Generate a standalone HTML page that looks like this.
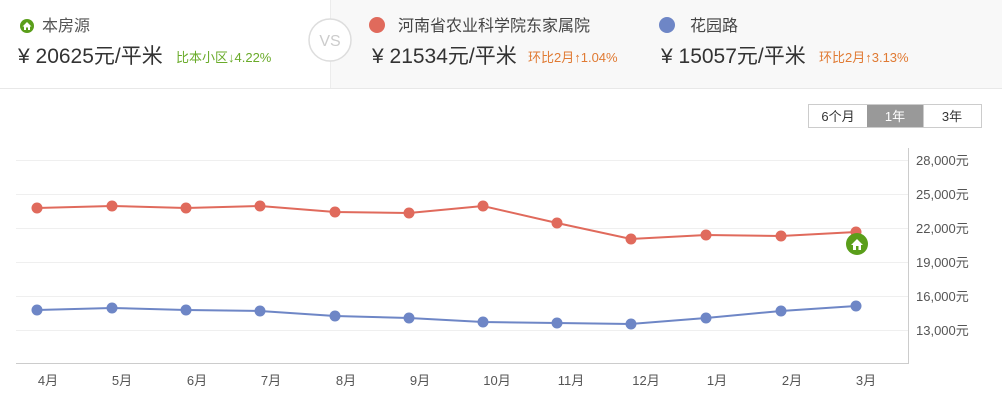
<!DOCTYPE html>
<html><head><meta charset="utf-8"><style>
body{margin:0;width:1002px;height:405px;overflow:hidden;background:#fff;font-family:"Liberation Sans","Noto Sans CJK SC",sans-serif;}
</style></head><body>
<svg width="1002" height="405" xmlns="http://www.w3.org/2000/svg" font-family="Liberation Sans, Noto Sans CJK SC, sans-serif">
<rect x="0" y="0" width="1002" height="88" fill="#fff"/>
<rect x="330" y="0" width="672" height="88" fill="#f8f8f8"/>
<line x1="0" y1="88.5" x2="1002" y2="88.5" stroke="#e8e8e8"/>
<line x1="330.5" y1="0" x2="330.5" y2="88" stroke="#ececec"/>
<circle cx="27" cy="26" r="7" fill="#5a9e1a"/>
<path d="M22.5 26.5 L27 22 L31.5 26.5 L30 26.5 L30 30 L24 30 L24 26.5Z" fill="#fff"/>
<rect x="26" y="27.5" width="2" height="2.5" fill="#5a9e1a"/>
<text x="42" y="31" font-size="16" fill="#555">本房源</text>
<text x="18" y="63" font-size="21" fill="#333">¥ 20625元/平米</text>
<text x="176" y="62" font-size="13" fill="#6aab2a">比本小区↓4.22%</text>
<circle cx="330" cy="40" r="21" fill="#fff" stroke="#ddd" stroke-width="1.5"/>
<text x="330" y="46" font-size="16" fill="#ccc" text-anchor="middle">VS</text>
<circle cx="377" cy="25" r="8" fill="#e06a5c"/>
<text x="398" y="31" font-size="16" fill="#444">河南省农业科学院东家属院</text>
<text x="372" y="63" font-size="21" fill="#333">¥ 21534元/平米</text>
<text x="528" y="62" font-size="13" fill="#e07a33">环比2月↑1.04%</text>
<circle cx="667" cy="25" r="8" fill="#6e86c6"/>
<text x="690" y="31" font-size="16" fill="#444">花园路</text>
<text x="661" y="63" font-size="21" fill="#333">¥ 15057元/平米</text>
<text x="819" y="62" font-size="13" fill="#e07a33">环比2月↑3.13%</text>
<rect x="808.5" y="104.5" width="173" height="23" fill="#fff" stroke="#ccc"/>
<rect x="867" y="105" width="56" height="22" fill="#999"/>
<line x1="923.5" y1="105" x2="923.5" y2="127" stroke="#ccc"/>
<text x="838" y="121" font-size="13" fill="#333" text-anchor="middle">6个月</text>
<text x="895" y="121" font-size="13" fill="#fff" text-anchor="middle">1年</text>
<text x="952" y="121" font-size="13" fill="#333" text-anchor="middle">3年</text>
<g stroke="#efefef" stroke-width="1">
<line x1="16" y1="160.5" x2="908" y2="160.5"/><line x1="16" y1="194.5" x2="908" y2="194.5"/>
<line x1="16" y1="228.5" x2="908" y2="228.5"/><line x1="16" y1="262.5" x2="908" y2="262.5"/>
<line x1="16" y1="296.5" x2="908" y2="296.5"/><line x1="16" y1="330.5" x2="908" y2="330.5"/>
</g>
<line x1="908.5" y1="148" x2="908.5" y2="363" stroke="#ccc"/>
<line x1="16" y1="363.5" x2="909" y2="363.5" stroke="#ccc"/>
<g font-size="13" fill="#555">
<text x="916" y="165">28,000元</text><text x="916" y="199">25,000元</text><text x="916" y="233">22,000元</text>
<text x="916" y="267">19,000元</text><text x="916" y="301">16,000元</text><text x="916" y="335">13,000元</text>
</g>
<g font-size="13" fill="#555" text-anchor="middle">
<text x="48" y="385">4月</text><text x="122" y="385">5月</text><text x="197" y="385">6月</text><text x="271" y="385">7月</text>
<text x="346" y="385">8月</text><text x="420" y="385">9月</text><text x="497" y="385">10月</text><text x="571" y="385">11月</text>
<text x="646" y="385">12月</text><text x="717" y="385">1月</text><text x="792" y="385">2月</text><text x="866" y="385">3月</text>
</g>
<polyline fill="none" stroke="#e06a5c" stroke-width="2" points="37,208 112,206 186,208 260,206 335,212 409,213 483,206 557,223 631,239 706,235 781,236 856,232"/>
<g fill="#e06a5c">
<circle cx="37" cy="208" r="5.5"/><circle cx="112" cy="206" r="5.5"/><circle cx="186" cy="208" r="5.5"/><circle cx="260" cy="206" r="5.5"/>
<circle cx="335" cy="212" r="5.5"/><circle cx="409" cy="213" r="5.5"/><circle cx="483" cy="206" r="5.5"/><circle cx="557" cy="223" r="5.5"/>
<circle cx="631" cy="239" r="5.5"/><circle cx="706" cy="235" r="5.5"/><circle cx="781" cy="236" r="5.5"/><circle cx="856" cy="232" r="5.5"/>
</g>
<polyline fill="none" stroke="#6e86c6" stroke-width="2" points="37,310 112,308 186,310 260,311 335,316 409,318 483,322 557,323 631,324 706,318 781,311 856,306"/>
<g fill="#6e86c6">
<circle cx="37" cy="310" r="5.5"/><circle cx="112" cy="308" r="5.5"/><circle cx="186" cy="310" r="5.5"/><circle cx="260" cy="311" r="5.5"/>
<circle cx="335" cy="316" r="5.5"/><circle cx="409" cy="318" r="5.5"/><circle cx="483" cy="322" r="5.5"/><circle cx="557" cy="323" r="5.5"/>
<circle cx="631" cy="324" r="5.5"/><circle cx="706" cy="318" r="5.5"/><circle cx="781" cy="311" r="5.5"/><circle cx="856" cy="306" r="5.5"/>
</g>
<circle cx="857" cy="244" r="11" fill="#5a9e1a"/>
<path d="M851 245 L857 239 L863 245 L861 245 L861 250 L853 250 L853 245Z" fill="#fff"/>
<rect x="856" y="246" width="2.5" height="4" fill="#5a9e1a"/>
</svg>
</body></html>
